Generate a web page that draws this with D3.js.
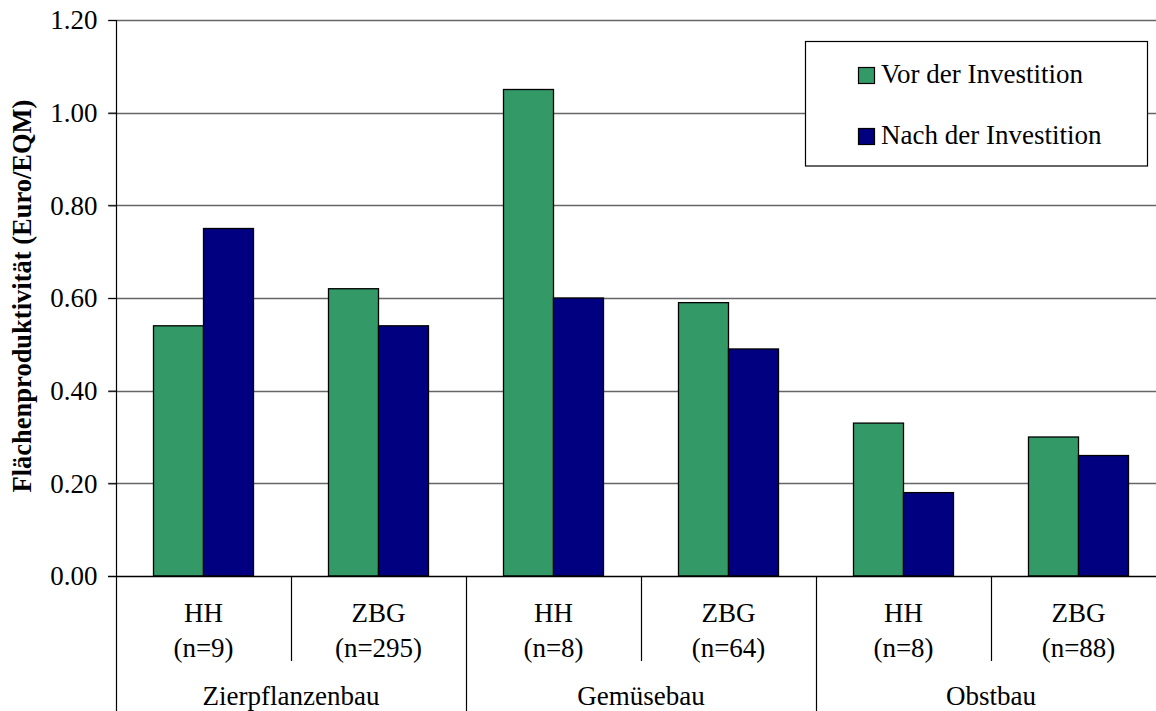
<!DOCTYPE html>
<html><head><meta charset="utf-8">
<script src="https://cdn.jsdelivr.net/npm/d3@7"></script>
</head><body>
<script>
const groups = ["Zierpflanzenbau","Gemüsebau","Obstbau"];
const subLabels = ["HH","ZBG","HH","ZBG","HH","ZBG"];
const nLabels = ["(n=9)","(n=295)","(n=8)","(n=64)","(n=8)","(n=88)"];
const seriesNames = ["Vor der Investition","Nach der Investition"];
const vorValues = [0.54,0.62,1.05,0.59,0.33,0.30];
const nachValues = [0.75,0.54,0.60,0.49,0.18,0.26];
const yTicks = [0,0.2,0.4,0.6,0.8,1.0,1.2];
const colors = ["#339966","#000080"];

const FONT="Liberation Serif";
const FS=27;
const W=1156,H=711;
d3.select("body").style("margin","0px").style("background","#fff");
const svg=d3.select("body").append("svg").attr("width",W).attr("height",H).style("display","block");
const mLeft=116, mTop=20, mBottom=576, catW=175;
const idx=d3.range(subLabels.length);
const x=d3.scaleBand().domain(idx).range([mLeft,mLeft+catW*idx.length]).padding(0);
const xs=d3.scaleBand().domain([0,1]).range([37.5,137.5]).padding(0);
const y=d3.scaleLinear().domain([0,1.2]).range([mBottom,mTop]);

function txt(sel){return sel.style("font-family",FONT).attr("font-size",FS).attr("fill","#000");}

// gridlines
svg.append("g").selectAll("line").data(yTicks.filter(d=>d>0)).join("line")
  .attr("x1",108).attr("x2",W).attr("y1",d=>Math.round(y(d))+0.5).attr("y2",d=>Math.round(y(d))+0.5)
  .attr("stroke","#666").attr("stroke-width",1.3);

// y axis
const yAxis=d3.axisLeft(y).tickValues(yTicks).tickFormat(d3.format(".2f")).tickSize(8).tickPadding(11);
const ga=svg.append("g").attr("transform",`translate(${mLeft+0.5},0)`).call(yAxis);
ga.attr("font-family",null).attr("font-size",null);
ga.select(".domain").remove();
ga.selectAll(".tick line").attr("stroke","#000");
txt(ga.selectAll(".tick text")).attr("dy","0.33em");
svg.append("line").attr("x1",mLeft+0.5).attr("x2",mLeft+0.5).attr("y1",mTop).attr("y2",H).attr("stroke","#000").attr("stroke-width",1.2);

// bars
[vorValues,nachValues].forEach((vals,s)=>{
  svg.append("g").selectAll("rect").data(vals).join("rect")
    .attr("x",(d,i)=>x(i)+xs(s)).attr("width",xs.bandwidth())
    .attr("y",d=>y(d)).attr("height",d=>mBottom-y(d))
    .attr("fill",colors[s]).attr("stroke","#000").attr("stroke-width",1.3);
});

// zero line
svg.append("line").attr("x1",108).attr("x2",W).attr("y1",mBottom+0.5).attr("y2",mBottom+0.5).attr("stroke","#000").attr("stroke-width",1.3);

// category separators
idx.slice(1).forEach(i=>{
  const isGroup = i%2===0;
  svg.append("line").attr("x1",x(i)+0.5).attr("x2",x(i)+0.5).attr("y1",mBottom).attr("y2",isGroup?H:661)
    .attr("stroke","#000").attr("stroke-width",1.2);
});

// category labels
txt(svg.append("g").selectAll("text").data(subLabels).join("text")
  .attr("x",(d,i)=>x(i)+catW/2).attr("y",622).attr("text-anchor","middle").text(d=>d));
txt(svg.append("g").selectAll("text").data(nLabels).join("text")
  .attr("x",(d,i)=>x(i)+catW/2).attr("y",657).attr("text-anchor","middle").text(d=>d));
txt(svg.append("g").selectAll("text").data(groups).join("text")
  .attr("x",(d,i)=>x(i*2)+catW).attr("y",705).attr("text-anchor","middle").text(d=>d));

// y title
txt(svg.append("text").attr("transform","translate(31,296) rotate(-90)").attr("text-anchor","middle"))
  .attr("font-size",26.5).attr("font-weight","bold")
  .text("Flächenproduktivität (Euro/EQM)");

// legend
const lg=svg.append("g");
lg.append("rect").attr("x",805.5).attr("y",41.5).attr("width",342).attr("height",124.5).attr("fill","#fff").attr("stroke","#000").attr("stroke-width",1.2);
seriesNames.forEach((n,i)=>{
  const base=[83,144][i];
  lg.append("rect").attr("x",858.5).attr("y",base-15.5).attr("width",16).attr("height",16).attr("fill",colors[i]).attr("stroke","#000").attr("stroke-width",1.2);
  txt(lg.append("text").attr("x",881).attr("y",base).text(n));
});
</script>
</body></html>
